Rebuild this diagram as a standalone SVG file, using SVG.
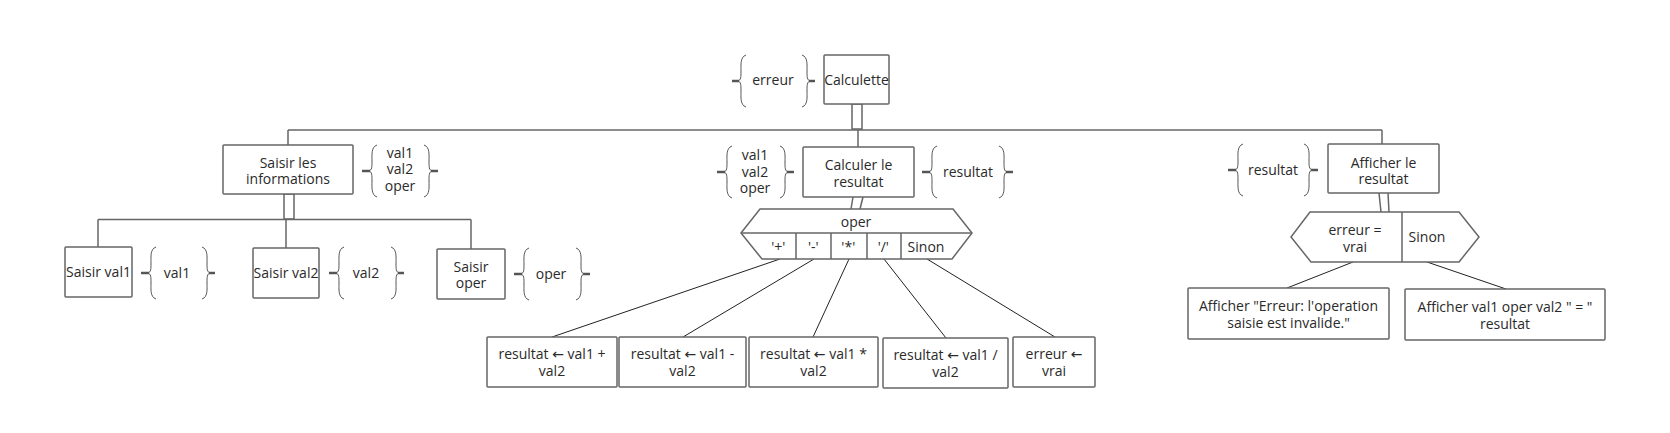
<svg xmlns="http://www.w3.org/2000/svg" width="1670" height="433" viewBox="0 0 1670 433">
<style>
  .box{fill:#fff;stroke:#666;stroke-width:1.5}
  .tree{fill:none;stroke:#666;stroke-width:1.5}
  .thin{fill:none;stroke:#222;stroke-width:1}
  .br{fill:none;stroke:#555;stroke-width:1}
  .dash{stroke:#555;stroke-width:2.5;stroke-linecap:butt}
  text{font-family:"Open Sans","Noto Sans","DejaVu Sans",sans-serif;font-size:14px;fill:#2a2a2a;text-anchor:middle}
</style>
<defs>
  <path id="lb" d="M8,-26 C2,-24 3,-16 3,-10 C3,-4 3,-1 0,0 C3,1 3,4 3,10 C3,16 2,24 8,26"/>
  <path id="rb" d="M-8,-26 C-2,-24 -3,-16 -3,-10 C-3,-4 -3,-1 0,0 C-3,1 -3,4 -3,10 C-3,16 -2,24 -8,26"/>
</defs>
<rect width="1670" height="433" fill="#fff"/>

<g id="connectors">
  <rect class="tree" x="852" y="104" width="10" height="25"/>
  <line class="tree" x1="288" y1="130" x2="1382" y2="130"/>
  <line class="tree" x1="288" y1="130" x2="288" y2="145"/>
  <line class="tree" x1="858" y1="130" x2="858" y2="147"/>
  <line class="tree" x1="1382" y1="130" x2="1382" y2="144"/>
  <rect class="tree" x="284" y="194" width="10" height="25"/>
  <line class="tree" x1="98" y1="219.5" x2="471" y2="219.5"/>
  <line class="tree" x1="98" y1="219.5" x2="98" y2="247"/>
  <line class="tree" x1="286" y1="219.5" x2="286" y2="248"/>
  <line class="tree" x1="471" y1="219.5" x2="471" y2="249"/>
  <line class="tree" x1="853" y1="197" x2="851" y2="209"/>
  <line class="tree" x1="863" y1="197" x2="860" y2="209"/>
  <line class="tree" x1="1379" y1="193" x2="1381" y2="212"/>
  <line class="tree" x1="1388" y1="193" x2="1389" y2="212"/>
  <line class="thin" x1="780" y1="259" x2="552" y2="337"/>
  <line class="thin" x1="814" y1="259" x2="683" y2="337"/>
  <line class="thin" x1="849" y1="259" x2="813" y2="337"/>
  <line class="thin" x1="884" y1="259" x2="946" y2="338"/>
  <line class="thin" x1="927" y1="259" x2="1055" y2="337"/>
  <line class="thin" x1="1353" y1="262" x2="1287" y2="288"/>
  <line class="thin" x1="1427" y1="262" x2="1506" y2="289"/>
</g>

<g id="calculette">
  <rect class="box" x="824" y="55" width="65" height="49" rx="1"/>
  <text x="856.5" y="85">Calculette</text>
</g>
<g id="data-erreur">
  <use href="#lb" class="br" x="738" y="81"/>
  <line class="dash" x1="732" y1="81" x2="739" y2="81"/>
  <text x="773" y="85">erreur</text>
  <use href="#rb" class="br" x="810" y="81"/>
  <line class="dash" x1="809" y1="81" x2="815" y2="81"/>
</g>

<g id="saisir-infos">
  <rect class="box" x="223" y="145" width="130" height="49" rx="1"/>
  <text x="288" y="167.7">Saisir les</text>
  <text x="288" y="184.3">informations</text>
</g>
<g id="data-infos">
  <use href="#lb" class="br" x="369" y="171"/>
  <line class="dash" x1="362" y1="171" x2="370" y2="171"/>
  <text x="400" y="157.7">val1</text>
  <text x="400" y="174.3">val2</text>
  <text x="400" y="191">oper</text>
  <use href="#rb" class="br" x="432" y="171"/>
  <line class="dash" x1="431" y1="171" x2="438" y2="171"/>
</g>

<g id="calculer">
  <rect class="box" x="803" y="147" width="111" height="50" rx="1"/>
  <text x="858.5" y="170">Calculer le</text>
  <text x="858.5" y="186.7">resultat</text>
</g>
<g id="data-calc-in">
  <use href="#lb" class="br" x="724" y="172"/>
  <line class="dash" x1="717" y1="172" x2="725" y2="172"/>
  <text x="755" y="160">val1</text>
  <text x="755" y="176.7">val2</text>
  <text x="755" y="193.3">oper</text>
  <use href="#rb" class="br" x="788" y="172"/>
  <line class="dash" x1="787" y1="172" x2="794" y2="172"/>
</g>
<g id="data-calc-out">
  <use href="#lb" class="br" x="929" y="172"/>
  <line class="dash" x1="922" y1="172" x2="930" y2="172"/>
  <text x="968" y="177">resultat</text>
  <use href="#rb" class="br" x="1007" y="172"/>
  <line class="dash" x1="1006" y1="172" x2="1013" y2="172"/>
</g>

<g id="afficher">
  <rect class="box" x="1328" y="144" width="111" height="49" rx="1"/>
  <text x="1383.5" y="167.7">Afficher le</text>
  <text x="1383.5" y="184.3">resultat</text>
</g>
<g id="data-afficher">
  <use href="#lb" class="br" x="1235" y="170"/>
  <line class="dash" x1="1228" y1="170" x2="1236" y2="170"/>
  <text x="1273" y="175">resultat</text>
  <use href="#rb" class="br" x="1312" y="170"/>
  <line class="dash" x1="1311" y1="170" x2="1318" y2="170"/>
</g>

<g id="saisir-val1">
  <rect class="box" x="65" y="247" width="67" height="50" rx="1"/>
  <text x="98.5" y="277">Saisir val1</text>
</g>
<g id="data-val1">
  <use href="#lb" class="br" x="148" y="273"/>
  <line class="dash" x1="141" y1="273" x2="149" y2="273"/>
  <text x="177" y="278">val1</text>
  <use href="#rb" class="br" x="210" y="273"/>
  <line class="dash" x1="209" y1="273" x2="215" y2="273"/>
</g>

<g id="saisir-val2">
  <rect class="box" x="253" y="248" width="66" height="50" rx="1"/>
  <text x="286" y="278">Saisir val2</text>
</g>
<g id="data-val2">
  <use href="#lb" class="br" x="336" y="273"/>
  <line class="dash" x1="329" y1="273" x2="337" y2="273"/>
  <text x="366" y="278">val2</text>
  <use href="#rb" class="br" x="399" y="273"/>
  <line class="dash" x1="398" y1="273" x2="404" y2="273"/>
</g>

<g id="saisir-oper">
  <rect class="box" x="437" y="249" width="68" height="50" rx="1"/>
  <text x="471" y="271.7">Saisir</text>
  <text x="471" y="288.3">oper</text>
</g>
<g id="data-oper">
  <use href="#lb" class="br" x="521" y="274"/>
  <line class="dash" x1="514" y1="274" x2="522" y2="274"/>
  <text x="551" y="279">oper</text>
  <use href="#rb" class="br" x="584" y="274"/>
  <line class="dash" x1="583" y1="274" x2="590" y2="274"/>
</g>

<g id="selon-oper">
  <polygon class="box" points="760,209 953,209 972,233 952,259 762,259 741,233"/>
  <line class="tree" x1="741" y1="233" x2="972" y2="233"/>
  <line class="tree" x1="796" y1="233" x2="796" y2="259"/>
  <line class="tree" x1="831" y1="233" x2="831" y2="259"/>
  <line class="tree" x1="867" y1="233" x2="867" y2="259"/>
  <line class="tree" x1="901" y1="233" x2="901" y2="259"/>
  <text x="856" y="227.3">oper</text>
  <text x="778.3" y="251.7">'+'</text>
  <text x="813.3" y="251.7">'-'</text>
  <text x="848.3" y="251.7">'*'</text>
  <text x="883.3" y="251.7">'/'</text>
  <text x="926" y="251.7">Sinon</text>
</g>

<g id="r-plus">
  <rect class="box" x="487" y="337" width="130" height="50" rx="1"/>
  <text x="552" y="359.3">resultat ← val1 +</text>
  <text x="552" y="376">val2</text>
</g>
<g id="r-moins">
  <rect class="box" x="619" y="337" width="127" height="50" rx="1"/>
  <text x="682.5" y="359.3">resultat ← val1 -</text>
  <text x="682.5" y="376">val2</text>
</g>
<g id="r-fois">
  <rect class="box" x="749" y="337" width="129" height="50" rx="1"/>
  <text x="813.5" y="359.3">resultat ← val1 *</text>
  <text x="813.5" y="376">val2</text>
</g>
<g id="r-div">
  <rect class="box" x="883" y="338" width="125" height="50" rx="1"/>
  <text x="945.5" y="360.3">resultat ← val1 /</text>
  <text x="945.5" y="377">val2</text>
</g>
<g id="r-erreur">
  <rect class="box" x="1013" y="337" width="82" height="50" rx="1"/>
  <text x="1054" y="359.3">erreur ←</text>
  <text x="1054" y="376">vrai</text>
</g>

<g id="si-erreur">
  <polygon class="box" points="1310,212 1459,212 1479,237 1459,262 1311,262 1291,237"/>
  <line class="tree" x1="1402" y1="212" x2="1402" y2="262"/>
  <text x="1355" y="235">erreur =</text>
  <text x="1355" y="251.7">vrai</text>
  <text x="1427" y="241.7">Sinon</text>
</g>

<g id="afficher-erreur">
  <rect class="box" x="1188" y="288" width="201" height="51" rx="1"/>
  <text x="1288.5" y="310.7">Afficher "Erreur: l'operation</text>
  <text x="1288.5" y="327.7">saisie est invalide."</text>
</g>
<g id="afficher-resultat">
  <rect class="box" x="1405" y="289" width="200" height="51" rx="1"/>
  <text x="1505" y="311.7">Afficher val1 oper val2 " = "</text>
  <text x="1505" y="328.7">resultat</text>
</g>
</svg>
